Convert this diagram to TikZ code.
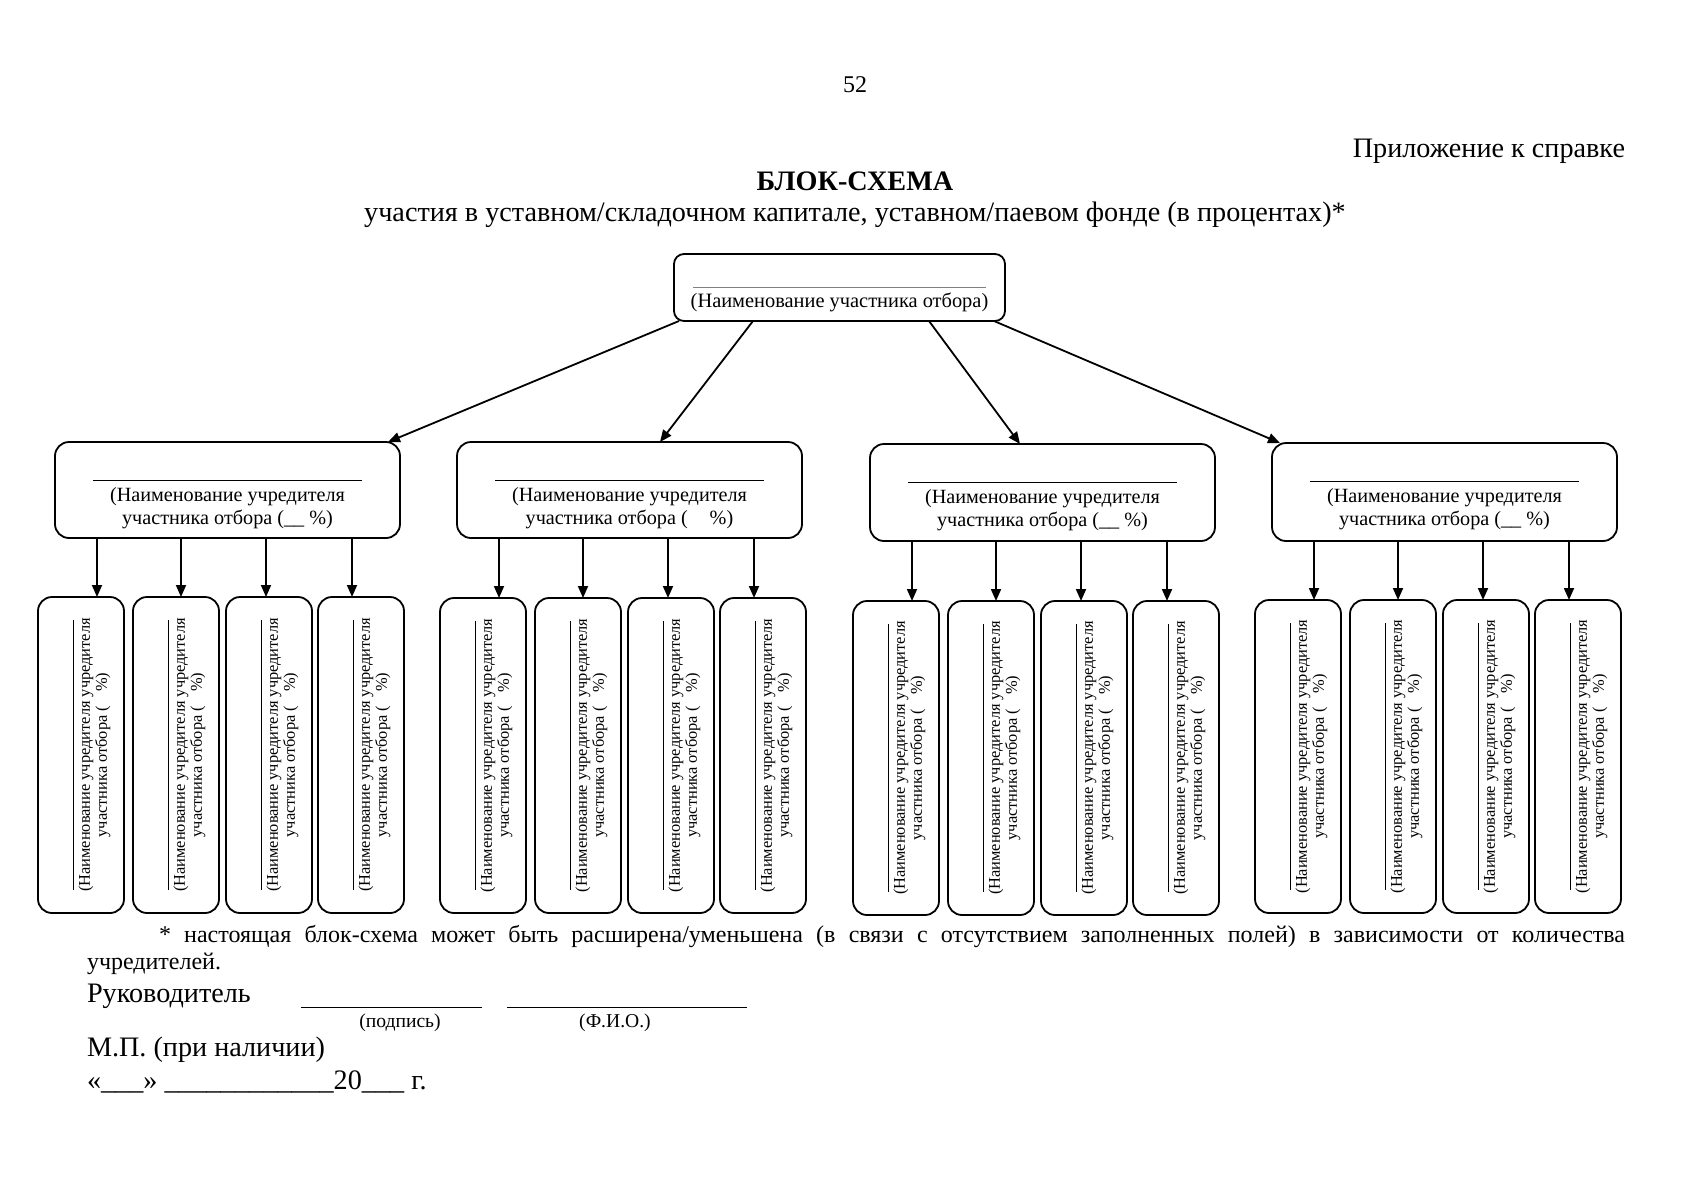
\documentclass[tikz,border=0pt]{standalone}
\usepackage{fontspec}
\setmainfont{Liberation Serif}
\usetikzlibrary{arrows.meta,calc}
\begin{document}
\begin{tikzpicture}[x=0.5pt,y=-0.5pt,
  box/.style={draw,line width=0.9pt,rounded corners=7pt,inner sep=0pt,outer sep=0pt},
  boxtop/.style={box,rounded corners=5pt,minimum width=165.5pt,minimum height=33.5pt},
  box2/.style={box,minimum width=172.5pt},
  box3/.style={box,minimum width=43pt},
  arr/.style={line width=0.9pt,-{Triangle[length=6pt,width=5pt]}},
  rulel/.style={line width=0.5pt},
  txt/.style={inner sep=0pt,outer sep=0pt},
  l2text/.style={txt,align=center,font=\fontsize{10.1}{11.5}\selectfont},
  l3text/.style={txt,align=center,rotate=90,font=\fontsize{8.2}{8.5}\selectfont},
  big/.style={txt,font=\fontsize{14.1}{16}\selectfont},
  mid/.style={txt,font=\fontsize{12}{14}\selectfont},
  small/.style={txt,font=\fontsize{9.8}{11}\selectfont}]
\path[fill=white] (0,0) rectangle (1698,1200);
\useasboundingbox (0,0) rectangle (1698,1200);

% header
\node[mid,anchor=base] (pg) at (855,92) {52};
\node[big,anchor=base east] (app) at (1625,157) {Приложение к справке};
\node[big,anchor=base] (ttl) at (855,190) {\bfseries БЛОК-СХЕМА};
\node[big,anchor=base] (sub) at (855,221) {участия в уставном/складочном капитале, уставном/паевом фонде (в процентах)*};

% top box
\node[boxtop] (top) at (839.5,287.5) {};
\draw[rulel,gray] ($(top.north)+(-146.5,33)$) -- ($(top.north)+(146.5,33)$);
\node[txt,anchor=base,font=\fontsize{10.2}{11.5}\selectfont] (toptext) at ($(top.north)+(0,53)$) {(Наименование участника отбора)};

\foreach \g/\L/\Ta/\Ba/\Tb/\Bb in {1/55/442/538/597/913, 2/457/442/538/598/913, 3/870/444/541/601/915, 4/1272/443/541/600/913}{
  \node[box2, minimum height={(\Ba-\Ta)*0.5pt}] (b\g) at ({\L+172.5},{(\Ta+\Ba)/2}) {};
  \draw[rulel] ($(b\g.north)+(-134.5,38)$) -- ($(b\g.north)+(134.5,38)$);
  \node[l2text] (bt\g) at ($(b\g.north)+(0,66)$) {(Наименование учредителя\\участника отбора \ifnum\g=2 (\hspace{11pt}\%)\else (\_\_ \%)\fi};
  \foreach \i/\dl/\da in {1/-17/42, 2/78/126, 3/171/211, 4/263/297}{
    \node[box3, minimum height={(\Bb-\Tb)*0.5pt}] (c\g\i) at ({\L+\dl+43},{(\Tb+\Bb)/2}) {};
    \draw[rulel] ($(c\g\i.north west)+(35,23)$) -- ($(c\g\i.south west)+(35,-23)$);
    \node[l3text] (ct\g\i) at ($(c\g\i.west)+(56.5,0)$) {(Наименование учредителя учредителя\\участника отбора (\hspace{7pt}\%)};
    \coordinate (p\g\i) at ({\L+\da},0);
    \draw[arr] (b\g.south -| p\g\i) -- (c\g\i.north -| p\g\i);
  }
}

% arrows from top box
\draw[arr] ($(top.south west)+(5,0)$) -- ($(b1.north east)+(-12,0)$);
\draw[arr] ($(top.south west)+(79,0)$) -- ($(b2.north west)+(203,0)$);
\draw[arr] ($(top.south east)+(-76,0)$) -- ($(b3.north west)+(150,0)$);
\draw[arr] ($(top.south east)+(-11,0)$) -- ($(b4.north west)+(8,0)$);

% footnote
\node[mid,anchor=base west] (fn1) at (159,942) {\makebox[733pt][s]{* настоящая блок-схема может быть расширена/уменьшена (в связи с отсутствием заполненных полей) в зависимости от количества}};
\node[mid,anchor=base west] (fn2) at (87,969) {учредителей.};

% signature
\node[big,anchor=base west] (ruk) at (87,1002) {Руководитель};
\draw[line width=0.5pt] (301,1007) -- (482,1007);
\draw[line width=0.5pt] (507,1007) -- (747,1007);
\node[small,anchor=base] (pod) at (400,1027) {(подпись)};
\node[small,anchor=base] (fio) at (615,1027) {(Ф.И.О.)};
\node[big,anchor=base west] (mp) at (87,1056) {М.П. (при наличии)};
\node[big,anchor=base west] (dt) at (87,1089) {«\_\_\_» \_\_\_\_\_\_\_\_\_\_\_\_20\_\_\_ г.};
\end{tikzpicture}
\end{document}
